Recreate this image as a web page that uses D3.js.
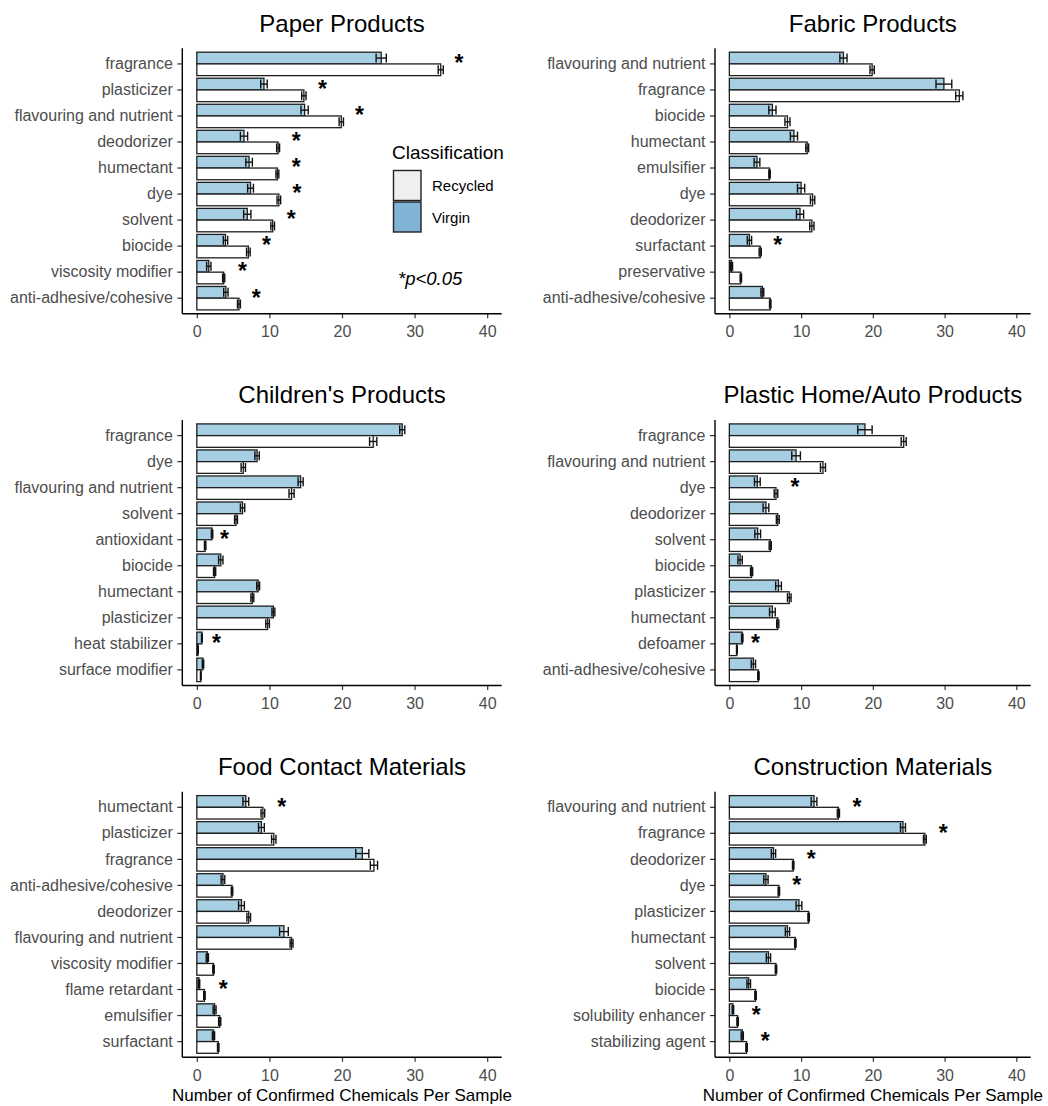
<!DOCTYPE html>
<html>
<head>
<meta charset="utf-8">
<script src="https://cdn.jsdelivr.net/npm/d3@7"></script>
<style>
  html, body { margin: 0; padding: 0; background: #fff; }
  svg { display: block; font-family: "Liberation Sans", Arial, sans-serif; }
</style>
</head>
<body>
<svg id="chart" width="1048" height="1106"></svg>
<script>
// ---------------- DATA ----------------
const xTicks = [0, 10, 20, 30, 40];
const seriesNames = ["Recycled", "Virgin"];

// Paper Products
const paperCats = ["fragrance", "plasticizer", "flavouring and nutrient", "deodorizer", "humectant", "dye", "solvent", "biocide", "viscosity modifier", "anti-adhesive/cohesive"];
const paperVirgin = [25.4, 9.25, 14.85, 6.5, 7.2, 7.4, 6.95, 3.95, 1.65, 4.0];
const paperVirginSE = [0.7, 0.45, 0.5, 0.5, 0.45, 0.4, 0.5, 0.3, 0.3, 0.3];
const paperRecycled = [33.6, 14.75, 19.9, 11.2, 11.1, 11.3, 10.45, 7.1, 3.7, 5.8];
const paperRecycledSE = [0.35, 0.3, 0.3, 0.2, 0.2, 0.25, 0.25, 0.25, 0.15, 0.2];
const paperStars = [36.1, 17.3, 22.4, 13.7, 13.7, 13.8, 13.0, 9.6, 6.3, 8.2];

// Fabric Products
const fabricCats = ["flavouring and nutrient", "fragrance", "biocide", "humectant", "emulsifier", "dye", "deodorizer", "surfactant", "preservative", "anti-adhesive/cohesive"];
const fabricVirgin = [15.9, 29.9, 6.0, 9.0, 3.85, 10.0, 9.85, 2.8, 0.3, 4.6];
const fabricVirginSE = [0.5, 1.1, 0.5, 0.5, 0.4, 0.5, 0.5, 0.3, 0.15, 0.2];
const fabricRecycled = [19.9, 32.05, 8.1, 10.85, 5.6, 11.6, 11.5, 4.3, 1.6, 5.7];
const fabricRecycledSE = [0.3, 0.5, 0.35, 0.2, 0.1, 0.3, 0.3, 0.15, 0.1, 0.1];
const fabricStars = [null, null, null, null, null, null, null, 6.75, null, null];

// Children's Products
const childCats = ["fragrance", "dye", "flavouring and nutrient", "solvent", "antioxidant", "biocide", "humectant", "plasticizer", "heat stabilizer", "surface modifier"];
const childVirgin = [28.3, 8.3, 14.3, 6.3, 2.1, 3.3, 8.45, 10.55, 0.7, 0.85];
const childVirginSE = [0.35, 0.3, 0.35, 0.3, 0.1, 0.3, 0.2, 0.2, 0.05, 0.1];
const childRecycled = [24.3, 6.4, 13.05, 5.4, 1.15, 2.45, 7.65, 9.75, 0.15, 0.55];
const childRecycledSE = [0.5, 0.3, 0.35, 0.2, 0.1, 0.15, 0.2, 0.25, 0.05, 0.05];
const childStars = [null, null, null, null, 3.8, null, null, null, 2.7, null];

// Plastic Home/Auto Products
const plasticCats = ["fragrance", "flavouring and nutrient", "dye", "deodorizer", "solvent", "biocide", "plasticizer", "humectant", "defoamer", "anti-adhesive/cohesive"];
const plasticVirgin = [18.9, 9.3, 3.9, 5.1, 3.95, 1.5, 6.85, 6.0, 1.8, 3.35];
const plasticVirginSE = [1.0, 0.6, 0.4, 0.4, 0.4, 0.3, 0.4, 0.4, 0.1, 0.3];
const plasticRecycled = [24.3, 13.05, 6.5, 6.75, 5.7, 3.1, 8.35, 6.75, 1.05, 4.05];
const plasticRecycledSE = [0.35, 0.35, 0.25, 0.2, 0.15, 0.15, 0.25, 0.15, 0.05, 0.1];
const plasticStars = [null, null, 9.15, null, null, null, null, null, 3.65, null];

// Food Contact Materials
const foodCats = ["humectant", "plasticizer", "fragrance", "anti-adhesive/cohesive", "deodorizer", "flavouring and nutrient", "viscosity modifier", "flame retardant", "emulsifier", "surfactant"];
const foodVirgin = [6.75, 8.9, 22.8, 3.6, 6.15, 12.0, 1.45, 0.3, 2.45, 2.3];
const foodVirginSE = [0.4, 0.4, 0.9, 0.25, 0.4, 0.6, 0.15, 0.1, 0.2, 0.15];
const foodRecycled = [9.1, 10.6, 24.4, 4.85, 7.15, 13.05, 2.3, 1.05, 3.15, 2.95];
const foodRecycledSE = [0.25, 0.3, 0.5, 0.1, 0.25, 0.2, 0.1, 0.1, 0.15, 0.1];
const foodStars = [11.7, null, null, null, null, null, null, 3.65, null, null];

// Construction Materials
const constCats = ["flavouring and nutrient", "fragrance", "deodorizer", "dye", "plasticizer", "humectant", "solvent", "biocide", "solubility enhancer", "stabilizing agent"];
const constVirgin = [11.8, 24.2, 6.15, 5.1, 9.7, 8.1, 5.45, 2.7, 0.5, 1.8];
const constVirginSE = [0.4, 0.35, 0.3, 0.3, 0.4, 0.3, 0.3, 0.25, 0.1, 0.15];
const constRecycled = [15.2, 27.25, 8.9, 6.9, 11.05, 9.2, 6.5, 3.65, 1.15, 2.4];
const constRecycledSE = [0.15, 0.2, 0.1, 0.1, 0.1, 0.1, 0.1, 0.1, 0.1, 0.1];
const constStars = [17.8, 29.8, 11.4, 9.4, null, null, null, null, 3.75, 5.0];

const panelTitles = ["Paper Products", "Fabric Products", "Children's Products", "Plastic Home/Auto Products", "Food Contact Materials", "Construction Materials"];
const xAxisTitle = "Number of Confirmed Chemicals Per Sample";
const legendTitle = "Classification";
const pNote = "*p<0.05";

// ---------------- LAYOUT ----------------
const panels = [
  { title: panelTitles[0], cats: paperCats, v: paperVirgin, vse: paperVirginSE, r: paperRecycled, rse: paperRecycledSE, stars: paperStars },
  { title: panelTitles[1], cats: fabricCats, v: fabricVirgin, vse: fabricVirginSE, r: fabricRecycled, rse: fabricRecycledSE, stars: fabricStars },
  { title: panelTitles[2], cats: childCats, v: childVirgin, vse: childVirginSE, r: childRecycled, rse: childRecycledSE, stars: childStars },
  { title: panelTitles[3], cats: plasticCats, v: plasticVirgin, vse: plasticVirginSE, r: plasticRecycled, rse: plasticRecycledSE, stars: plasticStars },
  { title: panelTitles[4], cats: foodCats, v: foodVirgin, vse: foodVirginSE, r: foodRecycled, rse: foodRecycledSE, stars: foodStars },
  { title: panelTitles[5], cats: constCats, v: constVirgin, vse: constVirginSE, r: constRecycled, rse: constRecycledSE, stars: constStars }
];

const colX = [[182.3, 501.7], [715, 1030.7]];
const rowTop = [48.3, 420, 791.7];
const plotH = 265.5;

const virginFill = "#a6cfe4";
const recycledFill = "#ffffff";
const barStroke = "#1e1e1e";
const textGray = "#4d4d4d";

const svg = d3.select("#chart");

panels.forEach((p, i) => {
  const col = i % 2, row = Math.floor(i / 2);
  const [x0, x1] = colX[col];
  const top = rowTop[row], bottom = top + plotH;

  const x = d3.scaleLinear().domain([-2, 42]).range([x0, x1]);
  const y = d3.scaleBand().domain(p.cats).range([top, bottom]).paddingInner(0).paddingOuter(0.1);
  const bw = y.bandwidth() * 0.9 / 2;
  const center = c => y(c) + y.bandwidth() / 2;

  const g = svg.append("g");

  // Title
  g.append("text")
    .attr("x", (x0 + x1) / 2).attr("y", top - 16.8)
    .attr("text-anchor", "middle")
    .attr("font-size", 24).attr("fill", "#000")
    .text(p.title);

  const rows = p.cats.map((c, k) => ({ c, v: p.v[k], vse: p.vse[k], r: p.r[k], rse: p.rse[k], star: p.stars[k] }));

  // Virgin bars (upper)
  g.selectAll(".vb").data(rows).join("rect")
    .attr("x", x(0)).attr("y", d => center(d.c) - bw)
    .attr("width", d => x(d.v) - x(0)).attr("height", bw)
    .attr("fill", virginFill).attr("stroke", barStroke).attr("stroke-width", 1.3);
  // Recycled bars (lower)
  g.selectAll(".rb").data(rows).join("rect")
    .attr("x", x(0)).attr("y", d => center(d.c))
    .attr("width", d => x(d.r) - x(0)).attr("height", bw)
    .attr("fill", recycledFill).attr("stroke", barStroke).attr("stroke-width", 1.3);

  // Error bars
  const errs = [];
  rows.forEach(d => {
    errs.push({ m: d.v, se: d.vse, yc: center(d.c) - bw / 2 });
    errs.push({ m: d.r, se: d.rse, yc: center(d.c) + bw / 2 });
  });
  const eg = g.append("g").attr("stroke", "#111").attr("stroke-width", 1.4);
  eg.selectAll(".eh").data(errs).join("line")
    .attr("x1", d => x(d.m - d.se)).attr("x2", d => x(d.m + d.se))
    .attr("y1", d => d.yc).attr("y2", d => d.yc);
  eg.selectAll(".ec1").data(errs).join("line")
    .attr("x1", d => x(d.m - d.se)).attr("x2", d => x(d.m - d.se))
    .attr("y1", d => d.yc - 4.5).attr("y2", d => d.yc + 4.5);
  eg.selectAll(".ec2").data(errs).join("line")
    .attr("x1", d => x(d.m + d.se)).attr("x2", d => x(d.m + d.se))
    .attr("y1", d => d.yc - 4.5).attr("y2", d => d.yc + 4.5);

  // Significance stars
  g.selectAll(".star").data(rows.filter(d => d.star != null)).join("text")
    .attr("x", d => x(d.star))
    .attr("y", d => center(d.c) - bw / 2 + 13.2)
    .attr("text-anchor", "middle")
    .attr("font-size", 23).attr("font-weight", "bold").attr("fill", "#000")
    .text("*");

  // Y axis
  const ya = g.append("g").attr("transform", `translate(${x0},0)`)
    .call(d3.axisLeft(y).tickSize(5).tickPadding(4.5));
  ya.select(".domain").remove();
  ya.selectAll(".tick line").attr("stroke", "#333").attr("stroke-width", 1.2);
  ya.selectAll(".tick text").attr("font-size", 16).attr("fill", textGray)
    .attr("font-family", "'Liberation Sans', Arial, sans-serif");
  g.append("line").attr("x1", x0).attr("x2", x0).attr("y1", top).attr("y2", bottom)
    .attr("stroke", "#000").attr("stroke-width", 1.4);

  // X axis
  const xa = g.append("g").attr("transform", `translate(0,${bottom})`)
    .call(d3.axisBottom(x).tickValues(xTicks).tickSize(4.5).tickPadding(7.5));
  xa.select(".domain").remove();
  xa.selectAll(".tick line").attr("stroke", "#333").attr("stroke-width", 1.2);
  xa.selectAll(".tick text").attr("font-size", 16).attr("fill", textGray)
    .attr("font-family", "'Liberation Sans', Arial, sans-serif");
  g.append("line").attr("x1", x0).attr("x2", x1).attr("y1", bottom).attr("y2", bottom)
    .attr("stroke", "#000").attr("stroke-width", 1.4);

  // X axis title for bottom row
  if (row === 2) {
    g.append("text")
      .attr("x", (x0 + x1) / 2).attr("y", 1101)
      .attr("text-anchor", "middle")
      .attr("font-size", 17).attr("fill", "#000")
      .text(xAxisTitle);
  }

  // Legend + note in first panel
  if (i === 0) {
    const lg = svg.append("g");
    lg.append("text").attr("x", 392).attr("y", 158.5)
      .attr("font-size", 19).attr("fill", "#000").text(legendTitle);
    const keyFills = { "Recycled": "#efefef", "Virgin": "#80b3d6" };
    seriesNames.forEach((s, k) => {
      lg.append("rect").attr("x", 393.5).attr("y", 170.5 + k * 31.5)
        .attr("width", 27.5).attr("height", 30)
        .attr("fill", keyFills[s]).attr("stroke", "#222").attr("stroke-width", 1.4);
      lg.append("text").attr("x", 432).attr("y", 191 + k * 32)
        .attr("font-size", 15).attr("fill", "#000").text(s);
    });
    lg.append("text").attr("x", 398).attr("y", 285)
      .attr("font-size", 18.5).attr("font-style", "italic").attr("fill", "#000").text(pNote);
  }
});
</script>
</body>
</html>
